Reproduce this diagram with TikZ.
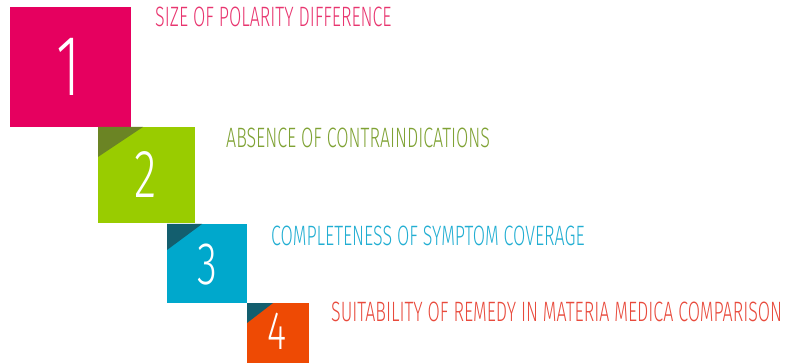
\documentclass[tikz,border=0pt]{standalone}
\usepackage{fontspec}
\setmainfont{Fira Sans}[UprightFont={* Light}]
\newfontfamily\labfont{Fira Sans}[UprightFont={* Light},FakeStretch=0.636]
\newfontfamily\numfont{Fira Sans}[UprightFont={* Light},FakeStretch=0.68]
\definecolor{cpink}{HTML}{E6005F}
\definecolor{cpinkt}{HTML}{E8356F}
\definecolor{cgreen}{HTML}{99CC00}
\definecolor{cgreend}{HTML}{6B8424}
\definecolor{cgreent}{HTML}{7FA234}
\definecolor{cblue}{HTML}{00A8CC}
\definecolor{cbluet}{HTML}{22AED2}
\definecolor{cteal}{HTML}{135E6E}
\definecolor{corange}{HTML}{EE4A04}
\definecolor{coranget}{HTML}{E84A3C}
\tikzset{
  sqbox/.style={rectangle, inner sep=0pt, outer sep=0pt, anchor=north west},
  numlab/.style={text=white, inner sep=0pt, anchor=base, font=\numfont},
  steplab/.style={inner sep=0pt, anchor=base west, font=\labfont\fontsize{28}{28}\selectfont},
}
\begin{document}
\begin{tikzpicture}[x=1pt,y=-1pt]
\useasboundingbox (0,0) rectangle (792,363);
% boxes
\node[sqbox, fill=cpink, minimum width=121pt, minimum height=120pt] (b1) at (10,7) {};
\node[sqbox, fill=cgreen, minimum width=97pt, minimum height=96pt] (b2) at (98,127) {};
\node[sqbox, fill=cblue, minimum width=80pt, minimum height=79pt] (b3) at (167,224) {};
\node[sqbox, fill=corange, minimum width=62pt, minimum height=60pt] (b4) at (247,303) {};
% corner triangles
\fill[cgreend] (b2.north west) -- ++(45,0) -- ++(-45,30) -- cycle;
\fill[cteal] (b3.north west) -- ++(35,0) -- ++(-35,26) -- cycle;
\fill[cteal] (b4.north west) -- ++(26,0) -- ++(-26,20) -- cycle;
% numbers
\node[numlab, font=\numfont\fontsize{86}{86}\selectfont] (n1) at (69,96) {1};
\node[numlab, font=\numfont\fontsize{68}{68}\selectfont] (n2) at (146,198) {2};
\node[numlab, font=\numfont\fontsize{60}{60}\selectfont] (n3) at (207,284) {3};
\node[numlab, font=\numfont\fontsize{54}{54}\selectfont] (n4) at (277,349) {4};
% labels
\node[steplab, text=cpinkt] (t1) at (155,26.5) {SIZE OF POLARITY DIFFERENCE};
\node[steplab, text=cgreent] (t2) at (226,148) {ABSENCE OF CONTRAINDICATIONS};
\node[steplab, text=cbluet] (t3) at (271,246) {COMPLETENESS OF SYMPTOM COVERAGE};
\node[steplab, text=coranget] (t4) at (331,321.5) {SUITABILITY OF REMEDY IN MATERIA MEDICA COMPARISON};
\end{tikzpicture}
\end{document}
